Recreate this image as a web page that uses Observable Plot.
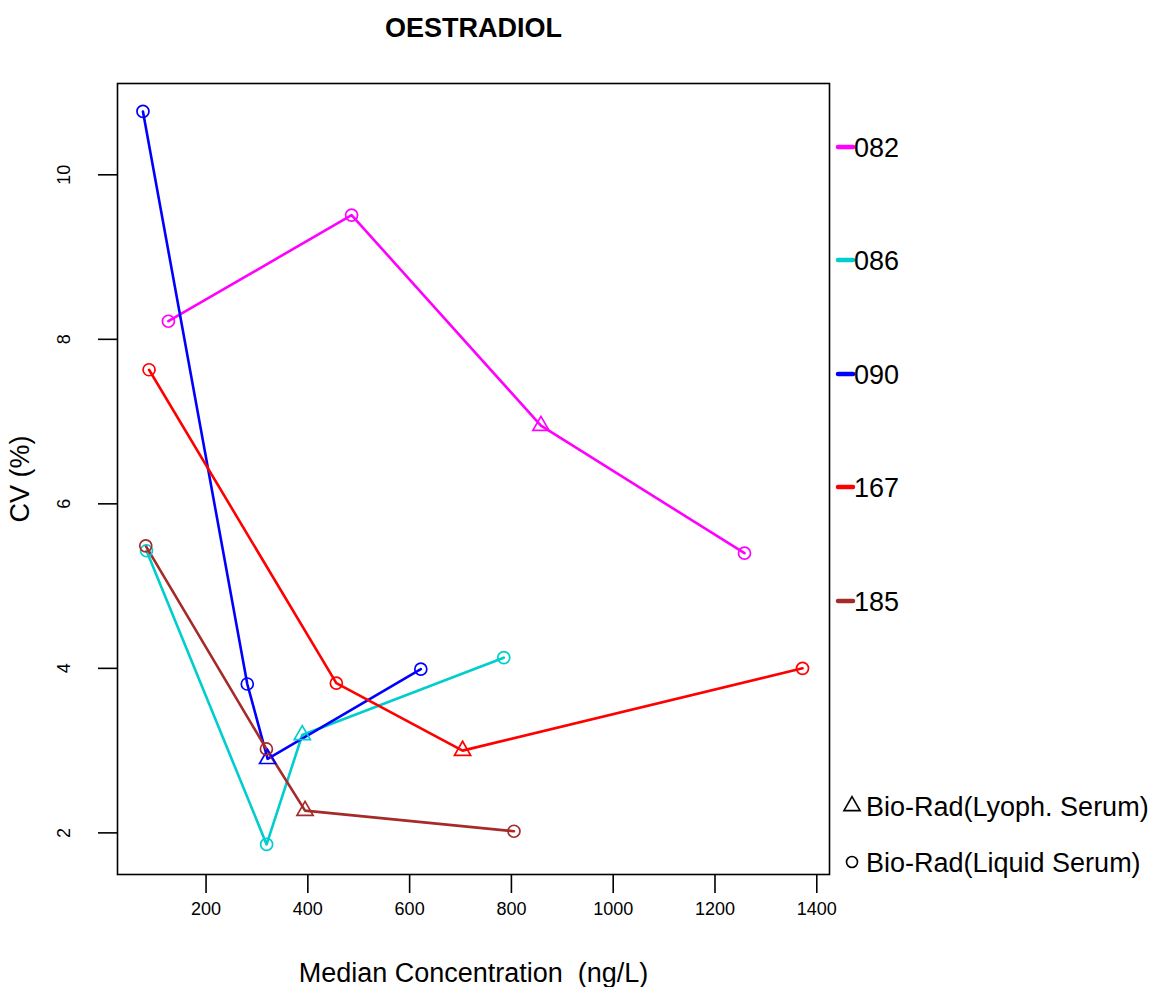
<!DOCTYPE html>
<html>
<head>
<meta charset="utf-8">
<script src="https://cdn.jsdelivr.net/npm/d3@7"></script>
<script src="https://cdn.jsdelivr.net/npm/@observablehq/plot@0.6"></script>
<style>
  html, body { margin: 0; padding: 0; background: white; }
  #chart svg { display: block; }
</style>
</head>
<body>
<div id="chart"></div>
<script>
// ---- data ----
const labs = ["082", "086", "090", "167", "185"];
const colors = ["#FF00FF", "#00CDCD", "#0000FF", "#FF0000", "#A52A2A"];
const materials = ["Bio-Rad(Lyoph. Serum)", "Bio-Rad(Liquid Serum)"];

const conc082 = [126, 486, 858, 1258];
const cv082   = [8.22, 9.51, 6.95, 5.40];
const mat082  = ["Liquid", "Liquid", "Lyoph", "Liquid"];

const conc086 = [83, 319, 389, 785];
const cv086   = [5.43, 1.86, 3.19, 4.13];
const mat086  = ["Liquid", "Liquid", "Lyoph", "Liquid"];

const conc090 = [76, 281, 321, 622];
const cv090   = [10.77, 3.81, 2.90, 3.99];
const mat090  = ["Liquid", "Liquid", "Lyoph", "Liquid"];

const conc167 = [88, 456, 704, 1372];
const cv167   = [7.63, 3.82, 3.00, 4.00];
const mat167  = ["Liquid", "Liquid", "Lyoph", "Liquid"];

const conc185 = [81.5, 318.6, 394.5, 805];
const cv185   = [5.49, 3.02, 2.27, 2.02];
const mat185  = ["Liquid", "Liquid", "Lyoph", "Liquid"];

const xTicks = [200, 400, 600, 800, 1000, 1200, 1400];
const yTicks = [2, 4, 6, 8, 10];

const title = "OESTRADIOL";
const xLabel = "Median Concentration\u00a0 (ng/L)";
const yLabel = "CV (%)";

// ---- build table ----
const seriesData = [
  [conc082, cv082, mat082],
  [conc086, cv086, mat086],
  [conc090, cv090, mat090],
  [conc167, cv167, mat167],
  [conc185, cv185, mat185]
];
const rows = [];
seriesData.forEach(([xs, ys, ms], k) => {
  xs.forEach((x, i) => rows.push({lab: labs[k], conc: x, cv: ys[i], mat: ms[i]}));
});

const font = "'Liberation Sans', Arial, Helvetica, sans-serif";

const chart = Plot.plot({
  width: 1150,
  height: 987,
  marginLeft: 117,
  marginRight: 321,
  marginTop: 83,
  marginBottom: 113,
  style: {fontFamily: font, background: "white", color: "black", overflow: "visible"},
  x: {domain: [26, 1425]},
  y: {domain: [1.494, 11.11]},
  color: {domain: labs, range: colors},
  symbol: {domain: ["Lyoph", "Liquid"], range: ["triangle", "circle"]},
  marks: [
    Plot.axisX({ticks: xTicks, tickSize: 19, tickPadding: 9, fontSize: 18, strokeWidth: 1.6, label: null, tickFormat: d => String(d)}),
    Plot.axisY({ticks: yTicks, tickSize: 19, strokeWidth: 1.6, label: null, tickFormat: () => null}),
    Plot.text(yTicks, {y: d => d, text: d => String(d), frameAnchor: "left", dx: -53, rotate: -90, textAnchor: "middle", lineAnchor: "middle", fontSize: 18, fill: "black"}),
    Plot.line(rows, {x: "conc", y: "cv", z: "lab", stroke: "lab", strokeWidth: 2.6}),
    Plot.dot(rows, {x: "conc", y: "cv", stroke: "lab", symbol: "mat", r: 6, strokeWidth: 1.7, fill: "none"}),
    Plot.frame({stroke: "black", strokeWidth: 1.6}),
    Plot.text([title], {text: d => d, frameAnchor: "top", dy: -55, lineAnchor: "middle", textAnchor: "middle", fontSize: 27, fontWeight: "bold", fill: "black"}),
    Plot.text([xLabel], {text: d => d, frameAnchor: "bottom", dy: 99, lineAnchor: "middle", textAnchor: "middle", fontSize: 27, fill: "black"}),
    Plot.text([yLabel], {text: d => d, frameAnchor: "left", dx: -97, rotate: -90, lineAnchor: "middle", textAnchor: "middle", fontSize: 27, fill: "black"})
  ]
});

document.getElementById("chart").appendChild(chart);

// ---- legend (drawn to the right of the panel) ----
const svg = d3.select(chart);
const lg = svg.append("g").attr("font-family", font).attr("font-size", 27).attr("text-anchor", "start");
const legY = [147, 260, 374, 487, 601];
labs.forEach((lab, k) => {
  lg.append("line")
    .attr("x1", 838).attr("x2", 853)
    .attr("y1", legY[k]).attr("y2", legY[k])
    .attr("stroke", colors[k]).attr("stroke-width", 4.5).attr("stroke-linecap", "round");
  lg.append("text")
    .attr("x", 854).attr("y", legY[k]).attr("dy", "0.36em")
    .attr("fill", "black").text(lab);
});
// symbol legend
const symY = [806, 862];
lg.append("path")
  .attr("transform", `translate(852,${symY[0]})`)
  .attr("d", d3.symbol(d3.symbolTriangle, Math.PI * 36)())
  .attr("fill", "none").attr("stroke", "black").attr("stroke-width", 1.6);
lg.append("circle")
  .attr("cx", 852).attr("cy", symY[1]).attr("r", 5.5)
  .attr("fill", "none").attr("stroke", "black").attr("stroke-width", 1.6);
materials.forEach((m, i) => {
  lg.append("text").attr("x", 866).attr("y", symY[i]).attr("dy", "0.36em")
    .attr("fill", "black").text(m);
});
</script>
</body>
</html>
